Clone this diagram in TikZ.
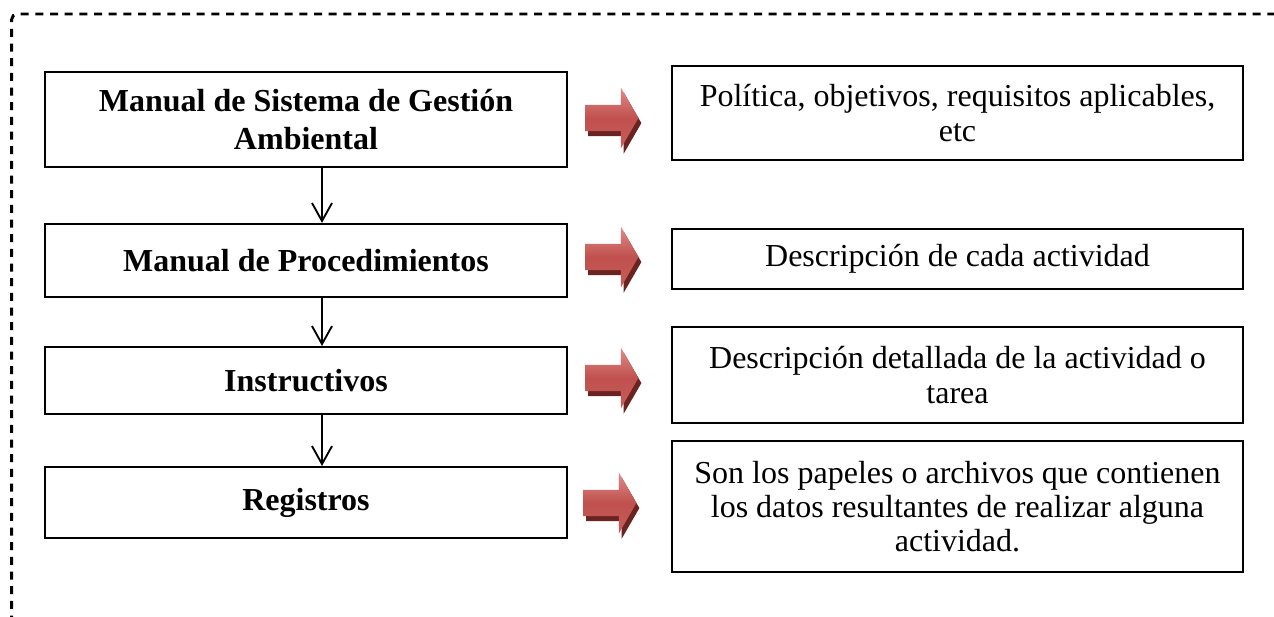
\documentclass[tikz,border=0pt]{standalone}
\usepackage{fontspec}
\setmainfont{Liberation Serif}
\usetikzlibrary{shapes.arrows,shadows,arrows.meta}
\definecolor{flechaclara}{HTML}{E08C8A}
\definecolor{flecharoja}{HTML}{C0504D}
\definecolor{flechaoscura}{HTML}{6B2321}
\tikzset{
  doc/.style={draw, line width=0.8pt, inner sep=0pt, align=center, minimum width=195.8pt, font=\bfseries\fontsize{12}{14.6}\selectfont},
  desc/.style={draw, line width=0.8pt, inner sep=0pt, align=center, minimum width=214.1pt, font=\fontsize{12}{12.8}\selectfont},
  flecha/.style={single arrow, draw=none, inner xsep=0pt, inner ysep=4.7pt, minimum height=20pt, minimum width=0pt,
    single arrow head extend=6.56pt, single arrow tip angle=120,
    top color=flechaclara, bottom color=flecharoja!92!white, middle color=flecharoja,
    drop shadow={shadow xshift=1.1pt, shadow yshift=-1.9pt, fill=flechaoscura, opacity=1}},
  baja/.style={-{Straight Barb[length=6.75pt,width=7.5pt]}, line width=0.7pt},
  borde/.style={line width=1.1pt, dash pattern=on 3pt off 2.5pt, rounded corners=2pt}
}
\begin{document}
\begin{tikzpicture}[x=0.375pt, y=-0.375pt]
      \useasboundingbox (0,0) rectangle (1274,616);
      \draw[borde] (1290,14) -- (11.7,14) -- (11.7,630); % marco
      % columna izquierda
      \node[doc, minimum height=35.6pt] (m1) at (306,119.5) {Manual de Sistema de Gestión\\Ambiental};
      \node[doc, minimum height=27.4pt] (m2) at (306,260.5) {Manual de Procedimientos};
      \node[doc, minimum height=25.1pt] (m3) at (306,380.5) {Instructivos};
      \node[doc, minimum height=26.6pt] (m4) at (306,502.5) {Registros};
      \draw[baja] ([xshift=6pt]m1.south) -- ([xshift=6pt]m2.north); % m1--m2
      \draw[baja] ([xshift=6pt]m2.south) -- ([xshift=6pt]m3.north); % m2--m3
      \draw[baja] ([xshift=6pt]m3.south) -- ([xshift=6pt]m4.north); % m3--m4
      % flechas rojas
      \node[flecha] (f1) at (608,118) {};
      \node[flecha] (f2) at (608,257) {};
      \node[flecha] (f3) at (608,378) {};
      \node[flecha] (f4) at (606,503) {};
      % columna derecha
      \node[desc, minimum height=35.25pt] (d1) at (957.5,113) {Política, objetivos, requisitos aplicables,\\etc};
      \node[desc, minimum height=22.5pt] (d2) at (957.5,259) {Descripción de cada actividad};
      \node[desc, minimum height=36pt] (d3) at (957.5,375) {Descripción detallada de la actividad o\\tarea};
      \node[desc, minimum height=49.1pt] (d4) at (957.5,506.5) {Son los papeles o archivos que contienen\\los datos resultantes de realizar alguna\\actividad.};
\end{tikzpicture}
\end{document}
